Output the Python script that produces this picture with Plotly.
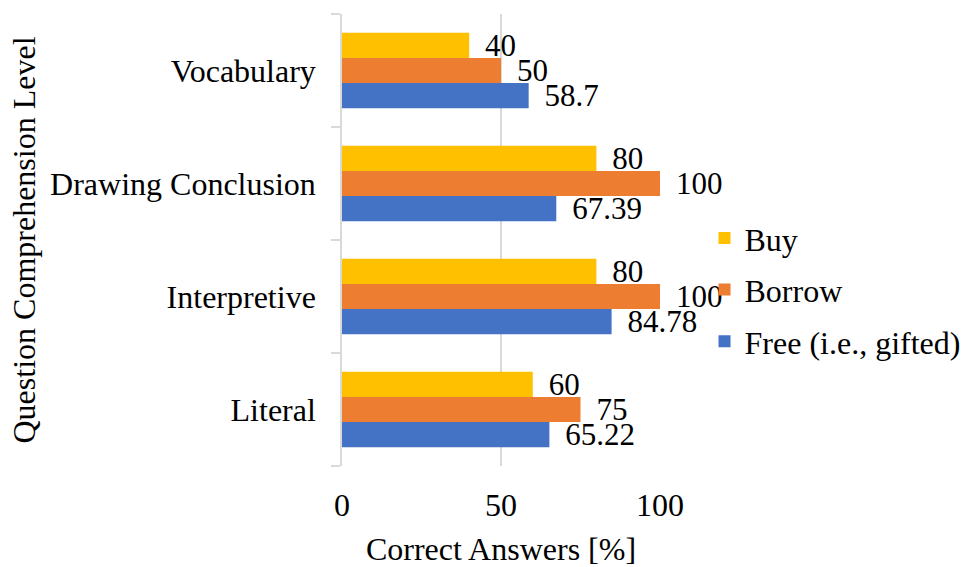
import plotly.graph_objects as go

categories = ["Literal", "Interpretive", "Drawing Conclusion", "Vocabulary"]
free_vals = [65.22, 84.78, 67.39, 58.7]
borrow_vals = [75, 100, 100, 50]
buy_vals = [60, 80, 80, 40]
x_ticks = [0, 50, 100]

series = [
    ("Free (i.e., gifted)", free_vals, "#4472C4", 3),
    ("Borrow", borrow_vals, "#ED7D31", 2),
    ("Buy", buy_vals, "#FFC000", 1),
]

FONT = "Liberation Serif, Times New Roman, serif"

fig = go.Figure()
for name, vals, color, rank in series:
    fig.add_trace(go.Bar(
        y=categories, x=vals, name=name, orientation="h", legendgroup=name,
        legendrank=rank,
        marker=dict(color=color, line=dict(width=0)),
        text=[f"\u2005\u2006{v:g}" for v in vals],
        textposition="outside", cliponaxis=False, constraintext="none",
        textfont=dict(family=FONT, size=31, color="black"),
    ))

fig.update_layout(
    width=964, height=567,
    margin=dict(l=342, r=304, t=14, b=101, autoexpand=False),
    paper_bgcolor="white", plot_bgcolor="white",
    barmode="group", bargap=0.33, bargroupgap=0,
    font=dict(family=FONT, size=32, color="black"),
    legend=dict(
        traceorder="grouped", x=1.14, y=0.39, xanchor="left", yanchor="middle",
        font=dict(family=FONT, size=32), itemwidth=30, tracegroupgap=7,
        bgcolor="rgba(0,0,0,0)",
    ),
    xaxis=dict(
        range=[0, 100], tickvals=x_ticks, showgrid=True, gridcolor="#d9d9d9",
        gridwidth=1.5, zeroline=False, showline=False, ticks="",
        ticklabelstandoff=17,
        title=dict(text="Correct Answers [%]", font=dict(size=32), standoff=16),
    ),
    yaxis=dict(
        showline=True, linecolor="#d9d9d9", linewidth=1.5,
        ticks="outside", ticklen=9, tickcolor="#d9d9d9", tickwidth=1.5,
        tickson="boundaries", showgrid=False, ticklabelstandoff=18,
        title=dict(text="Question Comprehension Level", font=dict(size=32), standoff=5),
    ),
)

fig.write_html("out.html", config={"displayModeBar": False},
               post_script="document.body.style.margin='0';")
